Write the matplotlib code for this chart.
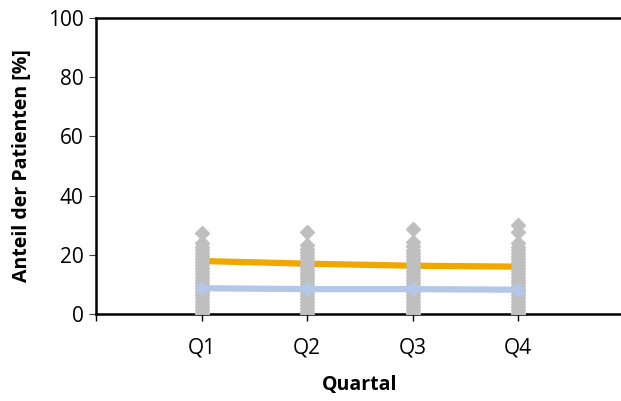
import numpy as np
from matplotlib import pyplot as plt

plt.rcParams['font.family'] = ['Open Sans', 'DejaVu Sans']

quarters = ['Q1', 'Q2', 'Q3', 'Q4']
orange_vals = [17.9, 17.0, 16.3, 16.0]
blue_vals = [8.7, 8.4, 8.4, 8.2]

# individual values per quarter (gray diamonds)
q1_pts = [27.5, 24.0, 22.5, 21.5, 20.5, 19.5, 18.5, 17.5, 16.5, 15.5, 14.5, 13.5, 12.5, 11.5,
          10.5, 9.5, 8.5, 7.5, 6.5, 5.5, 4.5, 3.5, 2.5, 1.5, 0.5, 0.0]
q2_pts = [27.7, 23.3, 22.0, 21.0, 20.0, 19.0, 18.0, 17.0, 16.0, 15.0, 14.0, 13.0, 12.0, 11.0,
          10.0, 9.0, 8.0, 7.0, 6.0, 5.0, 4.0, 3.0, 2.0, 1.0, 0.0]
q3_pts = [28.7, 24.4, 23.0, 21.5, 20.5, 19.5, 18.5, 17.5, 16.5, 15.5, 14.5, 13.5, 12.5, 11.5,
          10.5, 9.5, 8.5, 7.5, 6.5, 5.5, 4.5, 3.5, 2.5, 1.5, 0.5, 0.0]
q4_pts = [30.2, 27.8, 24.0, 22.5, 21.5, 20.5, 19.5, 18.5, 17.5, 16.5, 15.5, 14.5, 13.5, 12.5,
          11.5, 10.5, 9.5, 8.5, 7.5, 6.5, 5.5, 4.5, 3.5, 2.5, 1.5, 0.5, 0.0]

fig = plt.figure(figsize=(6.21, 4.01), dpi=100)
ax = fig.add_axes([0.1546, 0.217, 0.85, 0.738])

x = np.arange(1, len(quarters) + 1)

ax.plot(x, orange_vals, color='#F0A800', lw=4.5, solid_capstyle='butt', zorder=2)

for xi, pts in zip(x, [q1_pts, q2_pts, q3_pts, q4_pts]):
    ax.plot([xi] * len(pts), pts, linestyle='none', marker='D', ms=7.5,
            color='#BFBFBF', mec='#BFBFBF', zorder=3)

ax.plot(x, blue_vals, color='#B4C7E7', lw=4.5, marker='D', ms=7.5,
        mec='#B4C7E7', solid_capstyle='butt', zorder=4)

ax.set_xlim(0, 5)
ax.set_ylim(0, 100)
ax.set_xticks([0, 1, 2, 3, 4])
ax.set_xticklabels([''] + quarters)
ax.set_yticks(np.arange(0, 101, 20))

for s in ['left', 'top', 'bottom']:
    ax.spines[s].set_linewidth(1.8)
ax.spines['right'].set_visible(False)

ax.tick_params(axis='y', labelsize=15, length=5, width=0.8, pad=4, color='#404040')
ax.tick_params(axis='x', labelsize=15, length=5, width=1.0, pad=12)

ax.set_ylabel('Anteil der Patienten [%]', fontsize=14, fontweight='bold', labelpad=11)
ax.set_xlabel('Quartal', fontsize=14, fontweight='bold', labelpad=12)

plt.savefig('out.png', dpi=100)
